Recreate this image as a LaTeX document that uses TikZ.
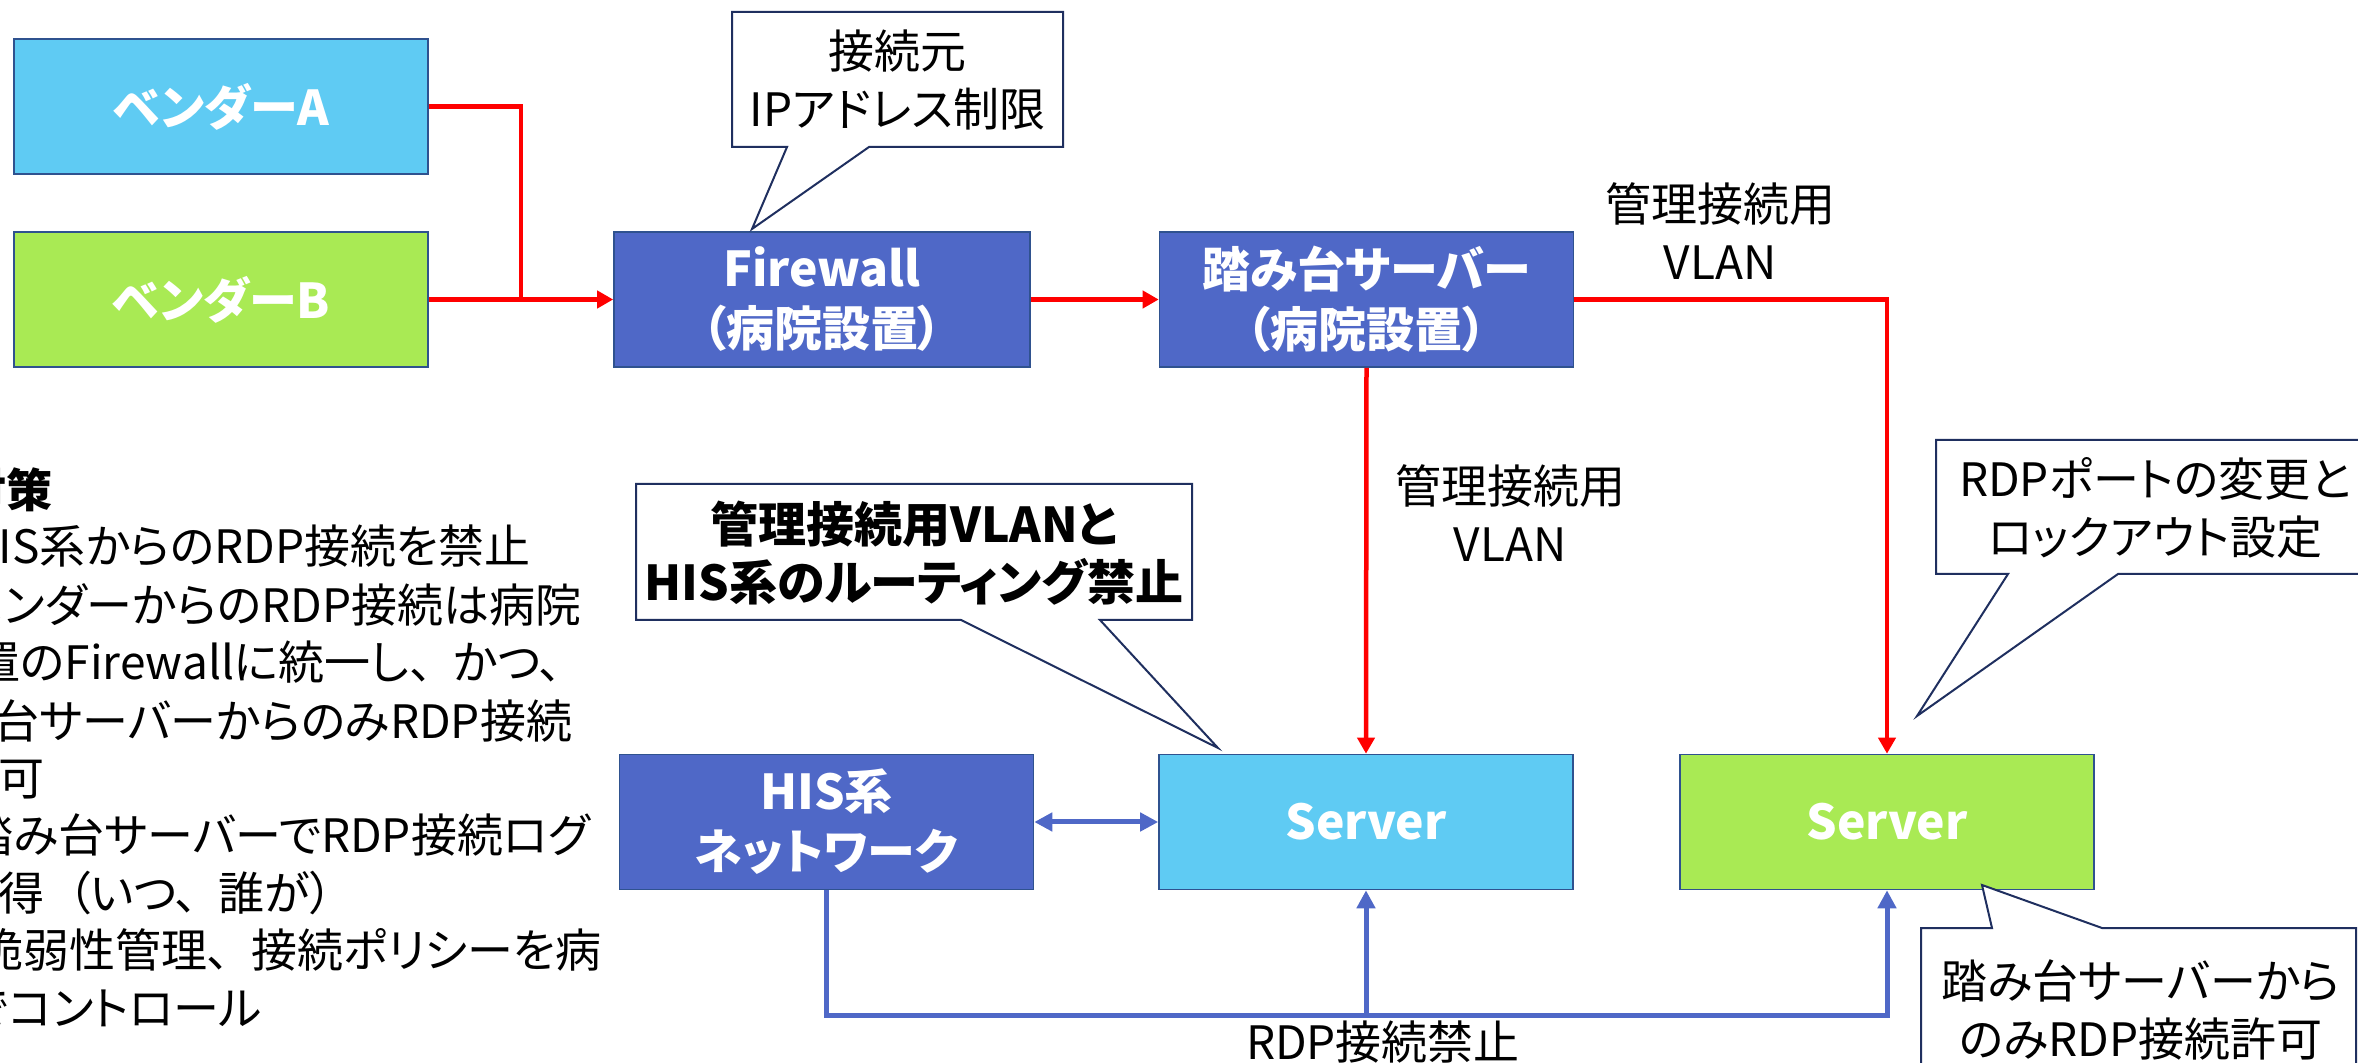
\documentclass[tikz,border=0pt]{standalone}
\usepackage{fontspec}
\setmainfont{Noto Sans CJK JP}[RawFeature=+palt]
\usetikzlibrary{arrows.meta}
\definecolor{cA}{HTML}{5FCBF3}
\definecolor{cB}{HTML}{A9EA54}
\definecolor{cD}{HTML}{4F68C7}
\definecolor{cE}{HTML}{2F528F}
\definecolor{cN}{HTML}{1F2F5F}
\definecolor{cR}{HTML}{FF0000}
\newcommand{\jten}{、\hspace{0.45em}}
\begin{document}
\begin{tikzpicture}[x=0.5pt,y=-0.5pt,
  box/.style={draw=cE, line width=0.8pt, minimum width=207pt, minimum height=67.5pt, inner sep=0pt, text=white, font=\fontsize{24}{30}\selectfont\bfseries, align=center},
  redl/.style={draw=cR, line width=2.25pt},
  bluel/.style={draw=cD, line width=2.5pt},
  tipR/.style={-{Triangle[length=8pt,width=8.5pt]}},
  tipB/.style={-{Triangle[length=9pt,width=9pt]}},
  tipBB/.style={{Triangle[length=9pt,width=9pt]}-{Triangle[length=9pt,width=9pt]}},
  callout/.style={draw=cN, line width=1pt, fill=white, line join=miter},
  lbl/.style={font=\fontsize{23}{29}\selectfont, align=center, inner sep=0pt},
  lblb/.style={font=\fontsize{24}{29}\selectfont\bfseries, align=center, inner sep=0pt},
  leftt/.style={font=\fontsize{23}{29}\selectfont, anchor=west, inner sep=0pt},
]
\useasboundingbox (0,0) rectangle (2358,1063);
\clip (0,0) rectangle (2358,1063);

% boxes
\node[box, fill=cA] (venA) at (221,106.5) {ベンダーA};
\node[box, fill=cB] (venB) at (221,299.5) {ベンダーB};
\node[box, fill=cD, minimum width=208pt] (fw) at (822,299.5) {Firewall\\（病院設置）};
\node[box, fill=cD] (jump) at (1366.5,299.5) {踏み台サーバー\\（病院設置）};
\node[box, fill=cD] (his) at (826.5,822) {HIS系\\ネットワーク};
\node[box, fill=cA] (srv1) at (1366,822) {Server};
\node[box, fill=cB] (srv2) at (1887,822) {Server};

% red connectors
\coordinate (jn) at (521,0);
\draw[redl] (venA.east) -- (venA.east -| jn) -- (venB.east -| jn);
\draw[redl, tipR] (venB.east) -- (fw.west);
\draw[redl, tipR] (fw.east) -- (jump.west);
\draw[redl, tipR] (jump.east) -| (srv2.north);
\draw[redl, tipR] (jump.south) -- (srv1.north);

% blue connectors
\coordinate (bus) at (0,1015);
\draw[bluel, tipBB] (his.east) -- (srv1.west);
\draw[bluel, tipB] (his.south) -- (his.south |- bus) -- (srv2.south |- bus) -- (srv2.south);
\draw[bluel, tipB] (srv1.south |- bus) -- (srv1.south);

% labels
\node[lbl] (vlan1) at (1720,231) {管理接続用\\VLAN};
\node[lbl] (vlan2) at (1510,513) {管理接続用\\VLAN};
\node[lbl] (rdpno) at (1383,1042) {RDP接続禁止};

% callouts
\draw[callout] (732,12) -- (1063,12) -- (1063,147) -- (869,147) -- (752,229) -- (787,147) -- (732,147) -- cycle;
\node[lbl] (c1) at (897.5,80) {接続元\\IPアドレス制限};

\draw[callout] (636,484) -- (1192,484) -- (1192,620) -- (1100,620) -- (1218,748) -- (961,620) -- (636,620) -- cycle;
\node[lblb] (c2) at (914,553) {管理接続用VLANと\\HIS系のルーティング禁止};

\draw[callout] (1936,440) -- (2374,440) -- (2374,574) -- (2118,574) -- (1917,716) -- (2008,574) -- (1936,574) -- cycle;
\node[lbl] (c3) at (2155,508) {RDPポートの変更と\\ロックアウト設定};

\draw[callout] (1921,928) -- (1992,928) -- (1982,885) -- (2102,928) -- (2356,928) -- (2356,1101) -- (1921,1101) -- cycle;
\node[lbl] (c4) at (2141,1010) {踏み台サーバーから\\のみRDP接続許可};

% left text (clipped at the left edge)
\node[leftt, font=\fontsize{23}{29}\selectfont\bfseries] (t1) at (-40,490) {対策};
\node[leftt] (t2) at (-35,546) {HIS系からのRDP接続を禁止};
\node[leftt] (t3) at (-43,605) {ベンダーからのRDP接続は病院};
\node[leftt] (t4) at (-72,662) {設置のFirewallに統一し\jten かつ\jten};
\node[leftt] (t5) at (-98,721) {踏み台サーバーからのみRDP接続};
\node[leftt] (t6) at (-48,778) {許可};
\node[leftt] (t7) at (-33,835) {踏み台サーバーでRDP接続ログ};
\node[leftt] (t8) at (-48,893) {取得\hspace{0.5em}（いつ\jten 誰が）};
\node[leftt] (t9) at (-23,950) {脆弱性管理\jten 接続ポリシーを病};
\node[leftt] (t10) at (-80,1008) {院でコントロール};
\end{tikzpicture}
\end{document}
